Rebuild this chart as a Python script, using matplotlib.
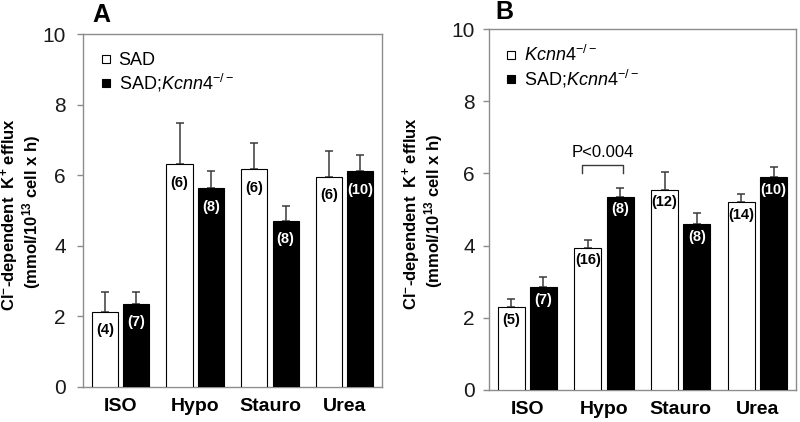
#!/usr/bin/env python

import numpy as np
import matplotlib.pyplot as plt
from matplotlib.lines import Line2D

# fonts: Arial-like text, mathtext for italics / superscripts
plt.rcParams["font.family"] = ["Liberation Sans", "DejaVu Sans"]
plt.rcParams["mathtext.fontset"] = "custom"
plt.rcParams["mathtext.rm"] = "Liberation Sans"
plt.rcParams["mathtext.it"] = "Liberation Sans:italic"
plt.rcParams["mathtext.bf"] = "Liberation Sans:bold"

conditions = ["ISO", "Hypo", "Stauro", "Urea"]

# panel A: SAD vs SAD;Kcnn4-/-
a_white = [2.13, 6.31, 6.17, 5.95]
a_white_err = [0.57, 1.16, 0.74, 0.74]
a_black = [2.36, 5.63, 4.71, 6.11]
a_black_err = [0.34, 0.50, 0.42, 0.46]
a_white_n = [4, 6, 6, 6]
a_black_n = [7, 8, 8, 10]
a_labels = ["SAD", r"SAD;$\mathit{Kcnn4}^{\mathit{-/-}}$"]

# panel B: Kcnn4-/- vs SAD;Kcnn4-/-
b_white = [2.30, 3.94, 5.55, 5.21]
b_white_err = [0.21, 0.22, 0.49, 0.22]
b_black = [2.84, 5.36, 4.60, 5.90]
b_black_err = [0.30, 0.25, 0.29, 0.29]
b_white_n = [5, 16, 12, 14]
b_black_n = [7, 8, 8, 10]
b_labels = [r"$\mathit{Kcnn4}^{\mathit{-/-}}$", r"SAD;$\mathit{Kcnn4}^{\mathit{-/-}}$"]

ylabel_1 = "Cl$^{\\mathbf{-}}$-dependent  K$^{\\mathbf{+}}$ efflux"
ylabel_2 = "(mmol/10$^{\\mathbf{13}}$ cell x h)"
spine_col = "#8c8c8c"


def draw_panel(ax, white, white_err, black, black_err, white_n, black_n,
               labels, letter, n_off, tpad, lab_x, leg_anchor, letter_pos):
    x = np.arange(len(conditions))
    w = 0.35
    d = 0.21
    ax.bar(x - d, white, w, color="white", edgecolor="black", linewidth=0.8, zorder=3)
    ax.bar(x + d, black, w, color="black", edgecolor="black", linewidth=0.8, zorder=3)
    ax.errorbar(x - d, white, yerr=[np.zeros(len(x)), white_err], fmt="none",
                ecolor="#3a3a3a", elinewidth=1.1, capsize=3, capthick=1.1, zorder=2)
    ax.errorbar(x + d, black, yerr=[np.zeros(len(x)), black_err], fmt="none",
                ecolor="#3a3a3a", elinewidth=1.1, capsize=3, capthick=1.1, zorder=2)
    for i in range(len(x)):
        ax.text(x[i] - d, white[i] - n_off, "({})".format(white_n[i]), ha="center",
                va="center", fontsize=10.5, fontweight="bold", color="black", zorder=4)
        ax.text(x[i] + d, black[i] - n_off, "({})".format(black_n[i]), ha="center",
                va="center", fontsize=10.5, fontweight="bold", color="white", zorder=4)

    ax.set_xlim(-0.5, 3.5)
    ax.set_ylim(0, 10)
    ax.set_yticks(range(0, 11, 2))
    ax.set_xticks(x)
    ax.set_xticklabels(conditions, fontsize=14, fontweight="bold")
    ax.tick_params(axis="x", length=0, pad=8)
    ax.tick_params(axis="y", length=4.5, width=1, color=spine_col, labelsize=15,
                   pad=tpad, labelcolor="#1a1a1a")
    for s in ax.spines.values():
        s.set_color(spine_col)
        s.set_linewidth(1)

    # two-line y label, placed line by line
    ax.text(lab_x[0], 0.488, ylabel_1, transform=ax.transAxes, rotation=90,
            ha="center", va="center", fontsize=12, fontweight="bold")
    ax.text(lab_x[1], 0.495, ylabel_2, transform=ax.transAxes, rotation=90,
            ha="center", va="center", fontsize=12, fontweight="bold")

    handles = [Line2D([], [], marker="s", ls="none", mfc="white", mec="black", ms=6, mew=0.8),
               Line2D([], [], marker="s", ls="none", mfc="black", mec="black", ms=6, mew=0.8)]
    ax.legend(handles, labels, loc="upper left", bbox_to_anchor=leg_anchor, frameon=False,
              fontsize=13, handlelength=0.7, handletextpad=0.35, labelspacing=0.15,
              borderpad=0, borderaxespad=0)
    ax.text(letter_pos[0], letter_pos[1], letter, transform=ax.transAxes, ha="center",
            va="center", fontsize=18, fontweight="bold")


fig = plt.figure(figsize=(8, 4.22), dpi=100)
ax_a = fig.add_axes([0.104, 0.083, 0.3735, 0.836])
ax_b = fig.add_axes([0.611, 0.076, 0.384, 0.855])

draw_panel(ax_a, a_white, a_white_err, a_black, a_black_err, a_white_n, a_black_n,
           a_labels, "A", 0.52, 8, (-0.245, -0.172), (0.055, 0.95), (0.06, 1.054))
draw_panel(ax_b, b_white, b_white_err, b_black, b_black_err, b_white_n, b_black_n,
           b_labels, "B", 0.35, 5.5, (-0.249, -0.181), (0.052, 0.955), (0.05, 1.047))

# significance bracket on Hypo, panel B
bx0 = 1 - 0.21 - 0.07
bx1 = 1 + 0.21 + 0.04
ax_b.plot([bx0, bx0, bx1, bx1], [6.02, 6.24, 6.24, 6.02], color="#3a3a3a", lw=1)
ax_b.text((bx0 + bx1) / 2, 6.58, "P<0.004", ha="center", va="center", fontsize=12)

fig.savefig("out.png", dpi=100)
